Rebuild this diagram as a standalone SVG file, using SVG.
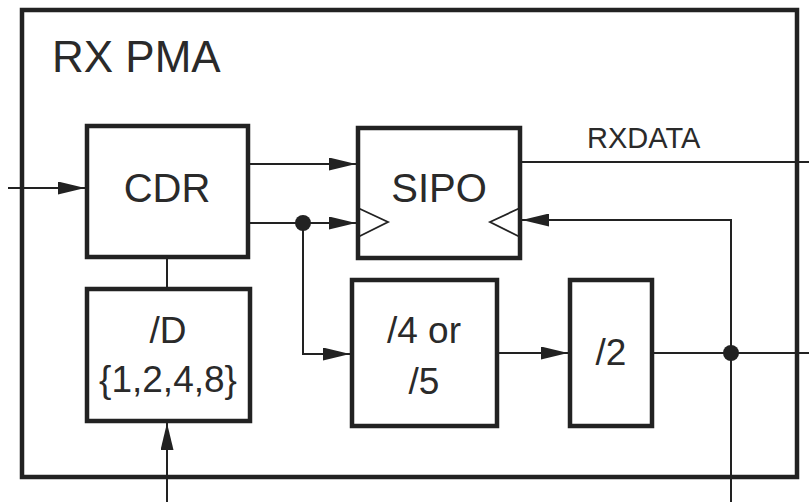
<svg xmlns="http://www.w3.org/2000/svg" width="809" height="502" viewBox="0 0 809 502">
<style>
  .box { fill: none; stroke: #222; stroke-width: 4.5; }
  .wire { fill: none; stroke: #222; stroke-width: 2; }
  .clk { fill: none; stroke: #222; stroke-width: 1.8; }
  text { font-family: "Liberation Sans", Arial, Helvetica, sans-serif; fill: #2a2a2a; }
  .big { font-size: 40px; text-anchor: middle; }
  .mid { font-size: 37px; text-anchor: middle; }
  .dot { fill: #222; }
</style>
<defs>
  <marker id="arr" viewBox="0 0 27 13" refX="27" refY="6.5" markerWidth="27" markerHeight="13" markerUnits="userSpaceOnUse" orient="auto">
    <path d="M0,0 L27,6.5 L0,13 z" fill="#222"/>
  </marker>
</defs>
<rect width="809" height="502" fill="#fff"/>
<g id="rxpma">
  <rect class="box" x="22" y="10" width="775" height="467"/>
  <text x="52" y="72" font-size="44">RX PMA</text>
</g>
<g id="cdr">
  <rect class="box" x="87" y="126" width="161" height="131"/>
  <text class="big" x="167" y="202">CDR</text>
</g>
<g id="sipo">
  <rect class="box" x="358" y="128" width="162" height="130"/>
  <text class="big" x="439" y="202">SIPO</text>
  <path class="clk" d="M358,208 L388,222 L358,237"/>
  <path class="clk" d="M520,208 L490,222 L520,237"/>
</g>
<g id="divd">
  <rect class="box" x="87" y="289" width="163" height="132"/>
  <text class="mid" x="168" y="343">/D</text>
  <text class="mid" x="168" y="392" font-size="39">{1,2,4,8}</text>
</g>
<g id="div45">
  <rect class="box" x="352" y="280" width="145" height="146"/>
  <text class="mid" x="424" y="343">/4 or</text>
  <text class="mid" x="424" y="394">/5</text>
</g>
<g id="div2">
  <rect class="box" x="570" y="280" width="82" height="146"/>
  <text class="mid" x="611" y="365">/2</text>
</g>
<g id="rxdata-label">
  <text x="587" y="148" font-size="29">RXDATA</text>
</g>
<g id="connectors">
  <path class="wire" d="M8,188 H85" marker-end="url(#arr)"/>
  <path class="wire" d="M250,164 H356" marker-end="url(#arr)"/>
  <path class="wire" d="M250,223 H356" marker-end="url(#arr)"/>
  <path class="wire" d="M303,223 V354 H350" marker-end="url(#arr)"/>
  <path class="wire" d="M497,353 H568" marker-end="url(#arr)"/>
  <path class="wire" d="M652,353 H809"/>
  <path class="wire" d="M731,502 V220 H522" marker-end="url(#arr)"/>
  <path class="wire" d="M520,162 H809"/>
  <path class="wire" d="M167,257 V289"/>
  <path class="wire" d="M167,502 V423" marker-end="url(#arr)"/>
  <circle class="dot" cx="303" cy="223" r="8"/>
  <circle class="dot" cx="731" cy="353" r="8"/>
</g>
</svg>
